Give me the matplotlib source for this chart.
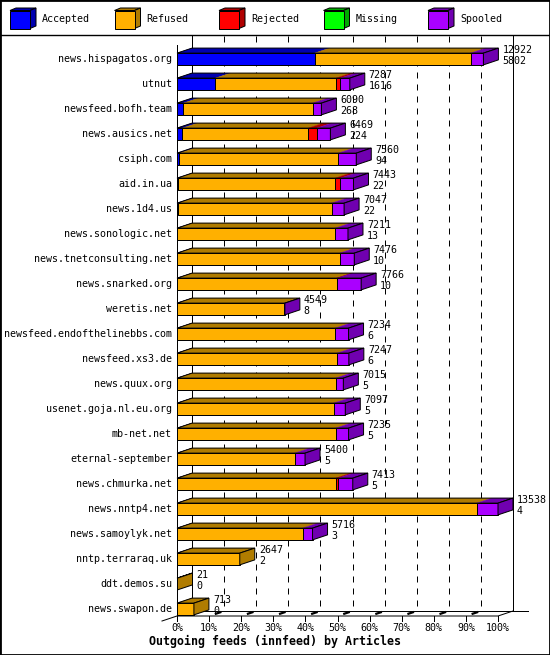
# Outgoing feeds (innfeed) by Articles - innreport style 3D bar chart
import matplotlib
matplotlib.use("Agg")
import matplotlib.pyplot as plt
from matplotlib.patches import Polygon, Rectangle

# data
hosts = ["news.hispagatos.org", "utnut", "newsfeed.bofh.team", "news.ausics.net",
         "csiph.com", "aid.in.ua", "news.1d4.us", "news.sonologic.net",
         "news.tnetconsulting.net", "news.snarked.org", "weretis.net",
         "newsfeed.endofthelinebbs.com", "newsfeed.xs3.de", "news.quux.org",
         "usenet.goja.nl.eu.org", "mb-net.net", "eternal-september",
         "news.chmurka.net", "news.nntp4.net", "news.samoylyk.net",
         "nntp.terraraq.uk", "ddt.demos.su", "news.swapon.de"]
totals = [12922, 7287, 6090, 6469, 7560, 7443, 7047, 7211, 7476, 7766, 4549,
          7234, 7247, 7015, 7097, 7235, 5400, 7413, 13538, 5716, 2647, 21, 713]
accepted = [5802, 1616, 268, 224, 94, 22, 22, 13, 10, 10, 8,
            6, 6, 5, 5, 5, 5, 5, 4, 3, 2, 0, 0]
refused = [6582, 5090, 5455, 5314, 6710, 6655, 6503, 6664, 6852, 6726, 4518,
           6671, 6743, 6688, 6604, 6688, 4959, 6688, 12636, 5298, 2645, 21, 713]
rejected = [0, 180, 0, 354, 0, 211, 0, 0, 0, 30, 0,
            0, 0, 0, 0, 0, 0, 110, 0, 0, 0, 0, 0]
missing = [0] * 23
spooled = [538, 401, 367, 577, 756, 555, 522, 534, 614, 1000, 23,
           557, 498, 322, 488, 542, 436, 610, 898, 415, 0, 0, 0]

series_names = ["Accepted", "Refused", "Rejected", "Missing", "Spooled"]
series_data = [accepted, refused, rejected, missing, spooled]
front_cols = ["#0000FF", "#FFB000", "#FF0000", "#00FF00", "#AA00FF"]
dark_cols = ["#0000B0", "#B07C00", "#B00000", "#00A800", "#7000B0"]
pct_ticks = list(range(0, 101, 10))

# geometry (percent on x, row index on y)
PX = 3.21          # pixels per percent
X0 = 177           # pixel of 0%
DX = 15 / PX       # depth offset in percent
DY = 0.2           # depth offset in rows
H = 0.47           # bar front height in rows
LW = 0.72
FONT = "DejaVu Sans Mono"

fig = plt.figure(figsize=(5.5, 6.55), dpi=100)
ax = fig.add_axes([0, 0, 1, 1])
ax.set_xlim(-X0 / PX, (550 - X0) / PX)
ax.set_ylim((655 - 59) / 25, -59 / 25)
ax.axis("off")

vmax = max(totals)
top_row = (36 - 59) / 25
floor_back = (611 - 59) / 25
floor_front = floor_back + DY

# back wall grid
for p in pct_ticks[1:-1]:
    ax.plot([p + DX, p + DX], [top_row, floor_back], color="black", lw=LW,
            linestyle=(0, (6, 6)), zorder=1)
ax.plot([100 + DX, 100 + DX], [top_row, floor_back], color="black", lw=LW, zorder=1)
ax.plot([DX, DX], [top_row, floor_back], color="black", lw=LW, zorder=1)
ax.plot([0, 0], [top_row + 0.36, floor_front], color="black", lw=LW, zorder=1)

# floor
ax.plot([-DX, 0, 100, 100 + DX], [floor_front + DY, floor_front, floor_front, floor_back],
        color="black", lw=LW, zorder=1)
ax.plot([DX, 100 + 2 * DX], [floor_back, floor_back], color="black", lw=LW, zorder=1)
for p in pct_ticks:
    ax.plot([p, p], [floor_front, floor_front + 0.2], color="black", lw=LW, zorder=1)
    ax.text(p, floor_front + 0.5, f"{p}%", ha="center", va="center",
            fontsize=7.2, family=FONT)
for p in pct_ticks[1:-1]:
    ax.plot([p + 0.45 * DX, p + 0.75 * DX],
            [floor_front - 0.45 * DY, floor_front - 0.75 * DY],
            color="black", lw=1.6, zorder=1)

# bars
for i, host in enumerate(hosts):
    y1 = i - H / 2
    y2 = i + H / 2
    start = 0.0
    last_dark = dark_cols[1]
    for vals, fc, dc in zip(series_data, front_cols, dark_cols):
        v = vals[i]
        if v <= 0:
            continue
        w = v / vmax * 100
        ax.add_patch(Polygon([(start, y1), (start + w, y1), (start + w + DX, y1 - DY),
                              (start + DX, y1 - DY)], closed=True, facecolor=dc,
                             edgecolor=dc, lw=0.3, zorder=3))
        ax.add_patch(Rectangle((start, y1), w, H, facecolor=fc, edgecolor="black",
                               lw=LW, zorder=4))
        start += w
        last_dark = dc
    end = totals[i] / vmax * 100
    ax.add_patch(Polygon([(0, y1), (end, y1), (end + DX, y1 - DY), (DX, y1 - DY)],
                         closed=True, fill=False, edgecolor="black", lw=LW, zorder=5))
    ax.add_patch(Polygon([(end, y1), (end + DX, y1 - DY), (end + DX, y2 - DY), (end, y2)],
                         closed=True, facecolor=last_dark, edgecolor="black",
                         lw=LW, zorder=5))
    ax.text(-5 / PX, i, host, ha="right", va="center", fontsize=7.2, family=FONT)
    ax.text(end + DX + 1.25, i - 0.36, str(totals[i]), ha="left", va="center",
            fontsize=7.2, family=FONT, zorder=6)
    ax.text(end + DX + 1.25, i + 0.07, str(accepted[i]), ha="left", va="center",
            fontsize=7.2, family=FONT, zorder=6)

fig.text(0.5, 1 - 641 / 655, "Outgoing feeds (innfeed) by Articles", ha="center",
         va="center", fontsize=8.4, family=FONT, fontweight="bold")

# legend strip
lg = fig.add_axes([0, 1 - 35 / 655, 1, 35 / 655])
lg.set_xlim(0, 550)
lg.set_ylim(35, 0)
lg.axis("off")
for k, (name, fc, dc) in enumerate(zip(series_names, front_cols, dark_cols)):
    x0 = 10 + 104.5 * k
    lg.add_patch(Polygon([(x0, 10.5), (x0 + 20, 10.5), (x0 + 26, 8), (x0 + 6, 8)],
                         closed=True, facecolor=dc, edgecolor="black", lw=LW))
    lg.add_patch(Polygon([(x0 + 20, 10.5), (x0 + 26, 8), (x0 + 26, 26), (x0 + 20, 28.5)],
                         closed=True, facecolor=dc, edgecolor="black", lw=LW))
    lg.add_patch(Rectangle((x0, 10.5), 20, 18, facecolor=fc, edgecolor="black", lw=LW))
    lg.text(x0 + 32, 19.5, name, ha="left", va="center", fontsize=7.2, family=FONT)

# frame and separator
fig.add_artist(Rectangle((0, 0), 1, 1, transform=fig.transFigure, fill=False,
                         edgecolor="black", lw=2))
fig.add_artist(plt.Line2D([0, 1], [1 - 35 / 655, 1 - 35 / 655],
                          transform=fig.transFigure, color="black", lw=1))

fig.savefig("out.png", dpi=100)
